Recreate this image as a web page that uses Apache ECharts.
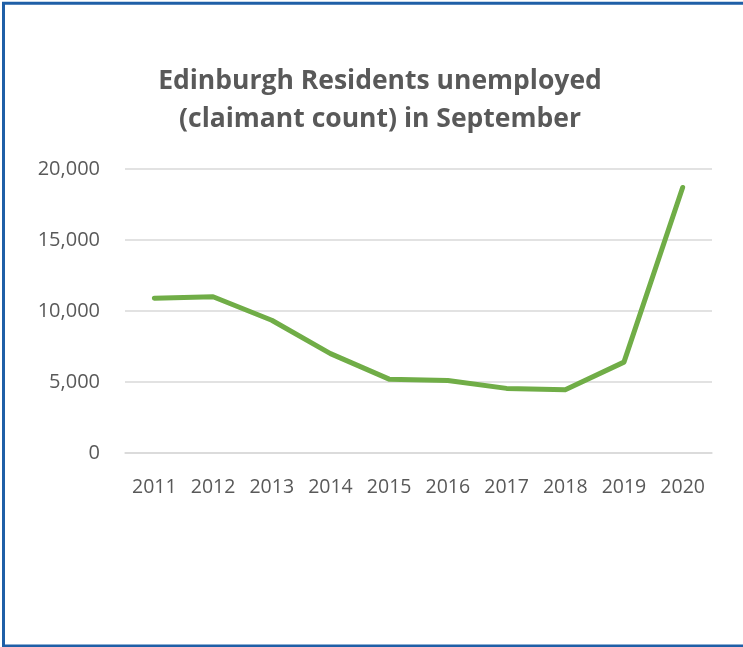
<!DOCTYPE html>
<html>
<head>
<meta charset="utf-8">
<script src="https://cdn.jsdelivr.net/npm/echarts@6/dist/echarts.min.js"></script>
<style>
  html, body { margin: 0; padding: 0; background: #fff; }
  #chart { width: 743px; height: 647px; }
</style>
</head>
<body>
<div id="chart"></div>
<script>
// Claimant count of Edinburgh residents, September of each year
const years = ['2011', '2012', '2013', '2014', '2015', '2016', '2017', '2018', '2019', '2020'];
const claimants = [10900, 11000, 9350, 7000, 5200, 5100, 4550, 4450, 6400, 18700];
const yTicks = [0, 5000, 10000, 15000, 20000];

const textGrey = '#595959';
const font = '"Open Sans", "Noto Sans", sans-serif';

const chart = echarts.init(document.getElementById('chart'), null, { renderer: 'canvas' });

chart.setOption({
  backgroundColor: '#ffffff',
  animation: false,
  title: {
    text: 'Edinburgh Residents unemployed\n(claimant count) in September',
    left: 375,
    top: 57,
    textAlign: 'center',
    textStyle: {
      fontFamily: font,
      fontWeight: 'bold',
      fontSize: 26.5,
      lineHeight: 38,
      color: textGrey
    }
  },
  graphic: [{
    type: 'rect',
    silent: true,
    shape: { x: 3.5, y: 3.3, width: 800, height: 642.7 },
    style: { fill: 'none', stroke: '#1F5FA7', lineWidth: 3 }
  }],
  grid: { left: 125, right: 31, top: 169, bottom: 194 },
  xAxis: {
    type: 'category',
    data: years,
    boundaryGap: true,
    axisLine: { show: true, lineStyle: { color: '#d9d9d9', width: 1.5 } },
    axisTick: { show: false },
    axisLabel: { color: textGrey, fontFamily: font, fontSize: 19.5, margin: 24 }
  },
  yAxis: {
    type: 'value',
    min: yTicks[0],
    max: yTicks[yTicks.length - 1],
    interval: yTicks[1] - yTicks[0],
    axisLine: { show: false },
    axisTick: { show: false },
    splitLine: { lineStyle: { color: '#d9d9d9', width: 1.5 } },
    axisLabel: {
      color: textGrey,
      fontFamily: font,
      fontSize: 20,
      margin: 25,
      formatter: v => v.toLocaleString('en-US')
    }
  },
  series: [{
    type: 'line',
    data: claimants,
    symbol: 'none',
    lineStyle: { color: '#70AD47', width: 5, cap: 'round', join: 'round' }
  }]
});
</script>
</body>
</html>
